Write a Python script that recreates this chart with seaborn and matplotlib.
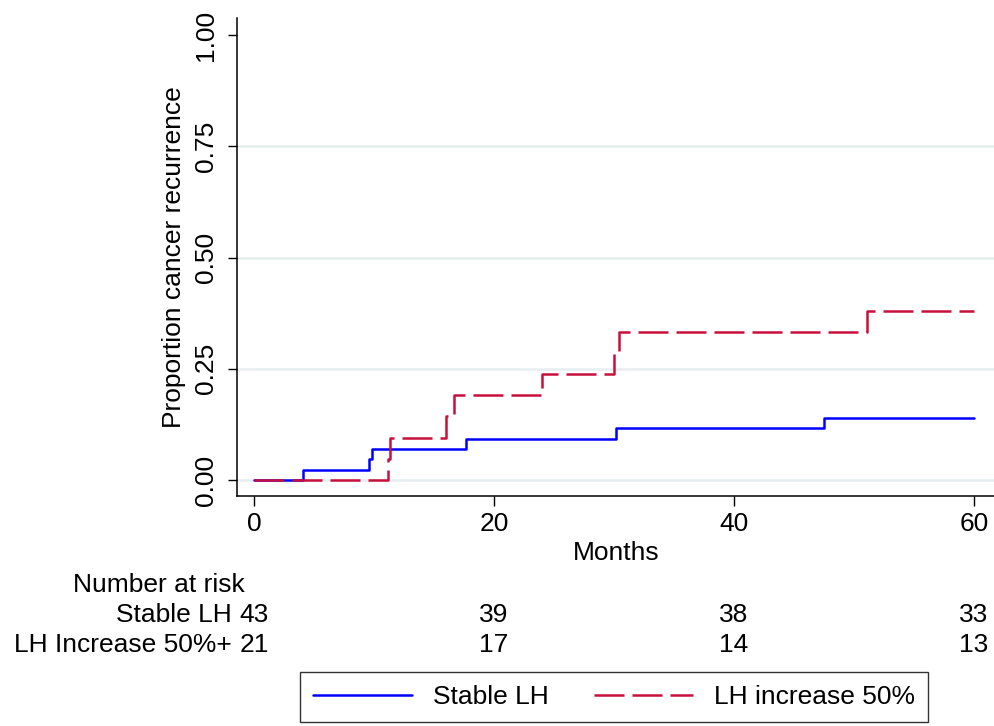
import numpy as np
import pandas as pd
import matplotlib
matplotlib.use("Agg")
import matplotlib.pyplot as plt
import matplotlib.transforms as mtransforms
import seaborn as sns

# ---- data ----
stable_times = [0, 4.1, 9.6, 9.8, 17.7, 30.2, 47.5, 60]
stable_vals = [0.0, 0.0233, 0.0465, 0.0698, 0.0930, 0.1163, 0.1400, 0.1400]
inc_times = [0, 11.2, 11.3, 16.0, 16.7, 24.0, 30.0, 30.4, 51.1, 60]
inc_vals = [0.0, 0.0476, 0.0952, 0.1429, 0.1905, 0.2381, 0.2857, 0.3333, 0.3800, 0.3800]
group_names = ["Stable LH", "LH increase 50%"]

risk_months = [0, 20, 40, 60]
risk_stable = [43, 39, 38, 33]
risk_inc = [21, 17, 14, 13]
risk_row_labels = ["Stable LH", "LH Increase 50%+"]

x_ticks = [0, 20, 40, 60]
y_ticks = [0.0, 0.25, 0.5, 0.75, 1.0]

df = pd.concat([
    pd.DataFrame({"time": stable_times, "prob": stable_vals, "group": group_names[0]}),
    pd.DataFrame({"time": inc_times, "prob": inc_vals, "group": group_names[1]}),
], ignore_index=True)

sns.set_theme(style="white")
plt.rcParams["font.family"] = ["Liberation Sans", "DejaVu Sans"]
plt.rcParams["text.color"] = "black"
plt.rcParams["axes.labelcolor"] = "black"
plt.rcParams["xtick.color"] = "black"
plt.rcParams["ytick.color"] = "black"
FS = 19

W, H = 995, 726
fig = plt.figure(figsize=(W / 100, H / 100), dpi=100)
ax = fig.add_axes([237 / W, 1 - 496 / H, 1 - 237 / W, (496 - 18) / H])

# gridlines (Stata style: not at the top)
for g in y_ticks[:-1]:
    ax.axhline(g, color="#E6EEF1", lw=1.8, zorder=0)

palette = {group_names[0]: "#0000FF", group_names[1]: "#C8103C"}
dashes = {group_names[0]: "", group_names[1]: (12, 3.2)}
sns.lineplot(data=df, x="time", y="prob", hue="group", style="group",
             palette=palette, dashes=dashes, drawstyle="steps-post",
             estimator=None, sort=False, lw=1.8, ax=ax)

handles, labels = ax.get_legend_handles_labels()
if ax.legend_ is not None:
    ax.legend_.remove()

# axes limits mapped from reference pixels
px_per_month = 12.0
x0_px = 254.0
ax.set_xlim((237 - x0_px) / px_per_month, (995 - x0_px) / px_per_month)
ax.set_ylim((480 - 496) / 445.0, (480 - 18) / 445.0)

ax.set_xticks(x_ticks)
ax.set_xticklabels([str(t) for t in x_ticks], fontsize=FS)
ax.set_yticks(y_ticks)
ax.set_yticklabels([f"{t:.2f}" for t in y_ticks], fontsize=FS, rotation=90, va="center")
ax.tick_params(axis="x", length=7.2, width=1.0, pad=4, bottom=True)
ax.tick_params(axis="y", length=6.5, width=1.0, pad=7, left=True)

for s in ["top", "right"]:
    ax.spines[s].set_visible(False)
for s in ["left", "bottom"]:
    ax.spines[s].set_color("black")
    ax.spines[s].set_linewidth(1.1)

ax.set_xlabel("Months", fontsize=FS, labelpad=4)
ax.set_ylabel("Proportion cancer recurrence", fontsize=FS, labelpad=6)
ax.grid(False)

# ---- number at risk table ----
trans = mtransforms.blended_transform_factory(ax.transData, fig.transFigure)
def fy(px):
    return 1 - px / H

ax.text(-0.75, fy(592), "Number at risk", transform=trans, ha="right",
        va="baseline", fontsize=FS, clip_on=False)
for row_label, counts, base in [(risk_row_labels[0], risk_stable, 622),
                                (risk_row_labels[1], risk_inc, 652)]:
    ax.text(-1.85, fy(base), row_label, transform=trans, ha="right",
            va="baseline", fontsize=FS, clip_on=False)
    for m, c in zip(risk_months, counts):
        ax.text(m, fy(base), str(c), transform=trans, ha="center",
                va="baseline", fontsize=FS, clip_on=False)

# ---- legend ----
leg = fig.legend(handles, labels, loc="center", bbox_to_anchor=(614 / W, 1 - 697 / H),
                 ncol=2, fontsize=FS, frameon=True, fancybox=False,
                 handlelength=3.75, handletextpad=0.78, columnspacing=1.75,
                 borderpad=0.5)
leg.get_frame().set_edgecolor("black")
leg.get_frame().set_linewidth(1.0)

fig.savefig("out.png", dpi=100)
